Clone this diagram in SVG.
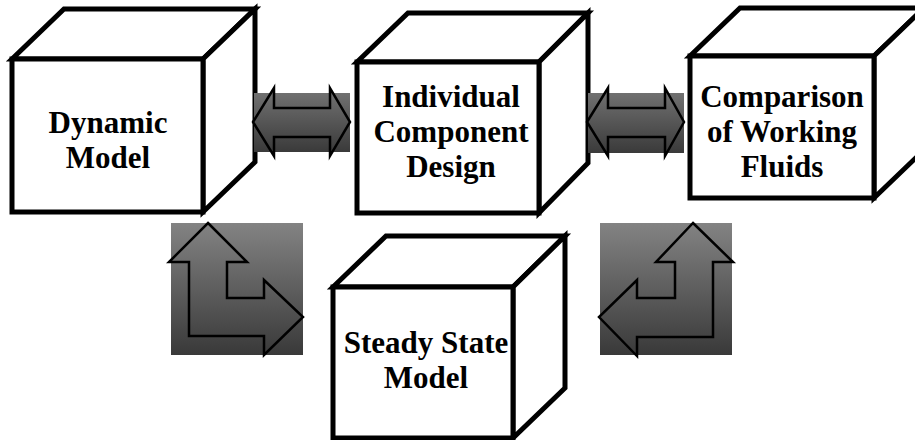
<svg xmlns="http://www.w3.org/2000/svg" width="915" height="440" viewBox="0 0 915 440">
<defs>
<linearGradient id="gH" x1="0" y1="0" x2="0" y2="1">
<stop offset="0" stop-color="#707070"/>
<stop offset="1" stop-color="#3a3a3a"/>
</linearGradient>
<linearGradient id="gL" x1="0" y1="0" x2="0" y2="1">
<stop offset="0" stop-color="#838383"/>
<stop offset="1" stop-color="#393939"/>
</linearGradient>
<style>
.face{fill:#fff;stroke:#000;stroke-width:5;stroke-linejoin:miter}
.lbl{font-family:'Liberation Serif','DejaVu Serif',serif;font-weight:700;font-size:31px;fill:#000;text-anchor:middle}
.arr{fill:none;stroke:#000;stroke-width:2.5;stroke-linejoin:miter}
</style>
</defs>
<rect width="915" height="440" fill="#fff"/>

<g id="node-dynamic-model">
<polygon class="face" points="12,59 64,9 255,9 203,59"/>
<polygon class="face" points="203,59 255,9 255,162 203,212"/>
<rect class="face" x="12" y="59" width="191" height="153"/>
<text class="lbl" x="108" y="133">Dynamic</text>
<text class="lbl" x="108" y="168">Model</text>
</g>

<g id="node-individual-component-design">
<polygon class="face" points="357,62 408,13 588,13 539,62"/>
<polygon class="face" points="539,62 588,13 588,163 539,213"/>
<rect class="face" x="357" y="62" width="182" height="151"/>
<text class="lbl" x="451" y="107">Individual</text>
<text class="lbl" x="451" y="142">Component</text>
<text class="lbl" x="451" y="177">Design</text>
</g>

<g id="node-comparison-working-fluids">
<polygon class="face" points="690,56 740,8 924,8 874,56"/>
<polygon class="face" points="874,56 924,8 924,150 874,198"/>
<rect class="face" x="690" y="56" width="184" height="142"/>
<text class="lbl" x="782" y="107">Comparison</text>
<text class="lbl" x="782" y="142">of Working</text>
<text class="lbl" x="782" y="177">Fluids</text>
</g>

<g id="node-steady-state-model">
<polygon class="face" points="333,287 386,236 565,236 513,287"/>
<polygon class="face" points="513,287 565,236 565,388 513,438"/>
<rect class="face" x="333" y="287" width="180" height="151"/>
<text class="lbl" x="426" y="353">Steady State</text>
<text class="lbl" x="426" y="388">Model</text>
</g>

<g id="connectors">
<g id="conn-dynamic-individual">
<rect x="254" y="93" width="96" height="59" fill="url(#gH)"/>
<polygon class="arr" points="253,122 274,88 274,108 330,108 330,88 350,122 330,156 330,137 274,137 274,156"/>
</g>
<g id="conn-individual-comparison">
<rect x="588" y="93" width="96" height="60" fill="url(#gH)"/>
<polygon class="arr" points="587,122 608,88 608,108 665,108 665,88 684,122 665,156 665,137 608,137 608,156"/>
</g>
<g id="conn-dynamic-steady">
<rect x="171" y="223" width="132" height="132" fill="url(#gL)"/>
<polygon class="arr" points="208,223 247,262 227,262 227,298 264,298 264,280 303,317 264,355 264,336 189,336 189,262 169,262"/>
</g>
<g id="conn-steady-comparison">
<rect x="600" y="223" width="132" height="132" fill="url(#gL)"/>
<polygon class="arr" points="693,223 733,262 713,262 713,337 637,337 637,356 599,317 637,280 637,298 675,298 675,262 656,262"/>
</g>
</g>
</svg>
